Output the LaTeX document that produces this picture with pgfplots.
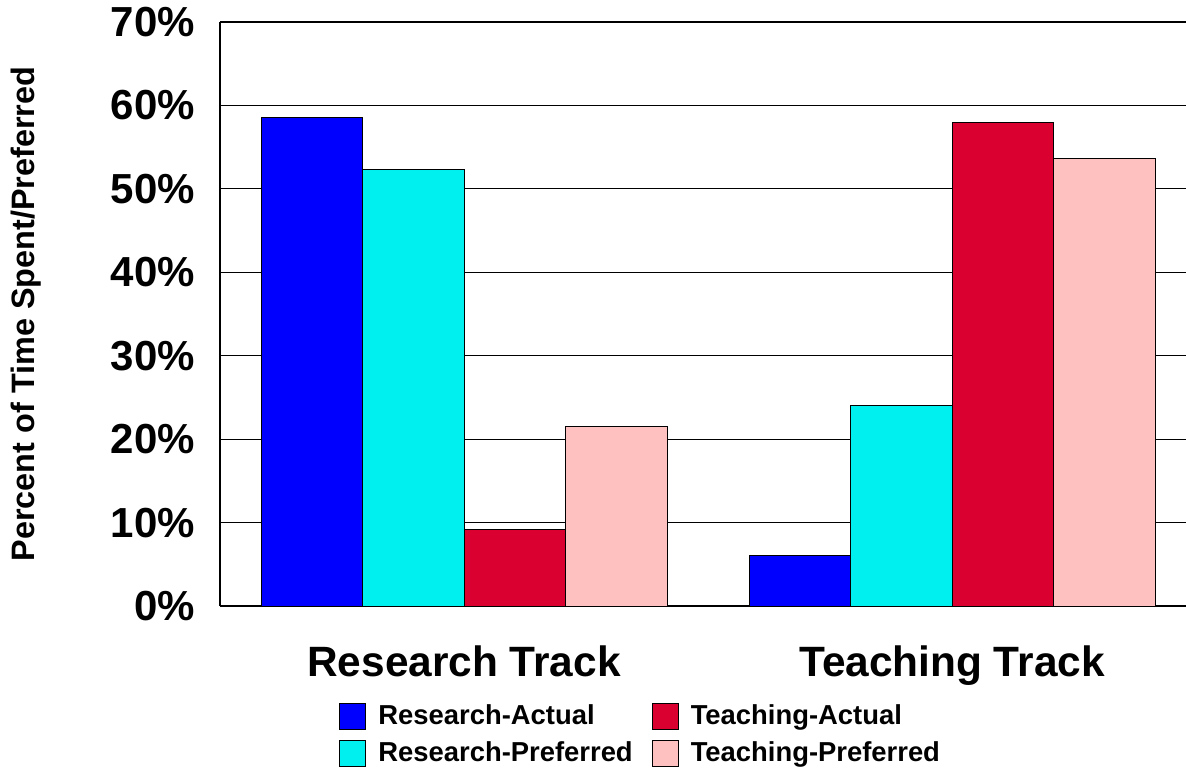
\documentclass[border=0pt]{standalone}
\usepackage{pgfplots}
\pgfplotsset{compat=1.18}
\usepackage{fontspec}
\setmainfont{Liberation Sans}

\definecolor{resact}{RGB}{0,0,255}
\definecolor{respref}{RGB}{0,240,240}
\definecolor{teaact}{RGB}{218,0,48}
\definecolor{teapref}{RGB}{255,192,192}

\begin{document}
\begin{tikzpicture}
\path[use as bounding box] (-110pt,-83.5pt) rectangle (483pt,303pt);
\begin{axis}[
  at={(0,0)}, anchor=south west,
  scale only axis,
  width=483pt, height=292pt,
  ybar=0pt, bar width=50.75pt,
  xmin=-0.5, xmax=1.4795,
  ymin=0, ymax=70,
  ytick={0,10,...,70},
  yticklabel={\pgfmathprintnumber{\tick}\%},
  /pgf/number format/assume math mode=true,
  xtick={0,1},
  xticklabels={Research Track, Teaching Track},
  major tick length=0pt,
  axis x line*=bottom,
  axis y line*=left,
  axis line style={line width=1.2pt},
  ymajorgrids,
  grid style={black, line width=0.6pt},
  tick label style={font=\bfseries},
  yticklabel style={font=\fontsize{21}{25}\selectfont\bfseries, xshift=-9pt},
  xticklabel style={font=\fontsize{21.2}{25}\selectfont\bfseries, yshift=-16.5pt},
  ylabel={Percent of Time Spent/Preferred},
  every axis y label/.style={at={(axis description cs:-0.201,0.5)}, rotate=90, anchor=center, font=\fontsize{16.2}{19}\selectfont\bfseries},
  legend columns=2,
  transpose legend,
  legend style={at={(axis description cs:0.117,-0.155)}, anchor=north west, draw=none, fill=none,
    font=\fontsize{13.7}{16}\selectfont\bfseries, row sep=3pt,
    /tikz/every odd column/.append style={column sep=4pt},
    /tikz/every even column/.append style={column sep=7.5pt}},
  legend image code/.code={\draw[#1, draw=black, line width=0.5pt] (0pt,-6.5pt) rectangle (13pt,6.5pt);},
  legend cell align=left,
  every axis plot/.append style={draw=black, line width=0.5pt},
]
\addplot[fill=resact] coordinates {(0,58.5) (1,6.0)};
\addplot[fill=respref] coordinates {(0,52.3) (1,24.0)};
\addplot[fill=teaact] coordinates {(0,9.2) (1,57.9)};
\addplot[fill=teapref] coordinates {(0,21.5) (1,53.6)};
\legend{Research-Actual, Research-Preferred, Teaching-Actual, Teaching-Preferred}
\end{axis}
\end{tikzpicture}
\end{document}
